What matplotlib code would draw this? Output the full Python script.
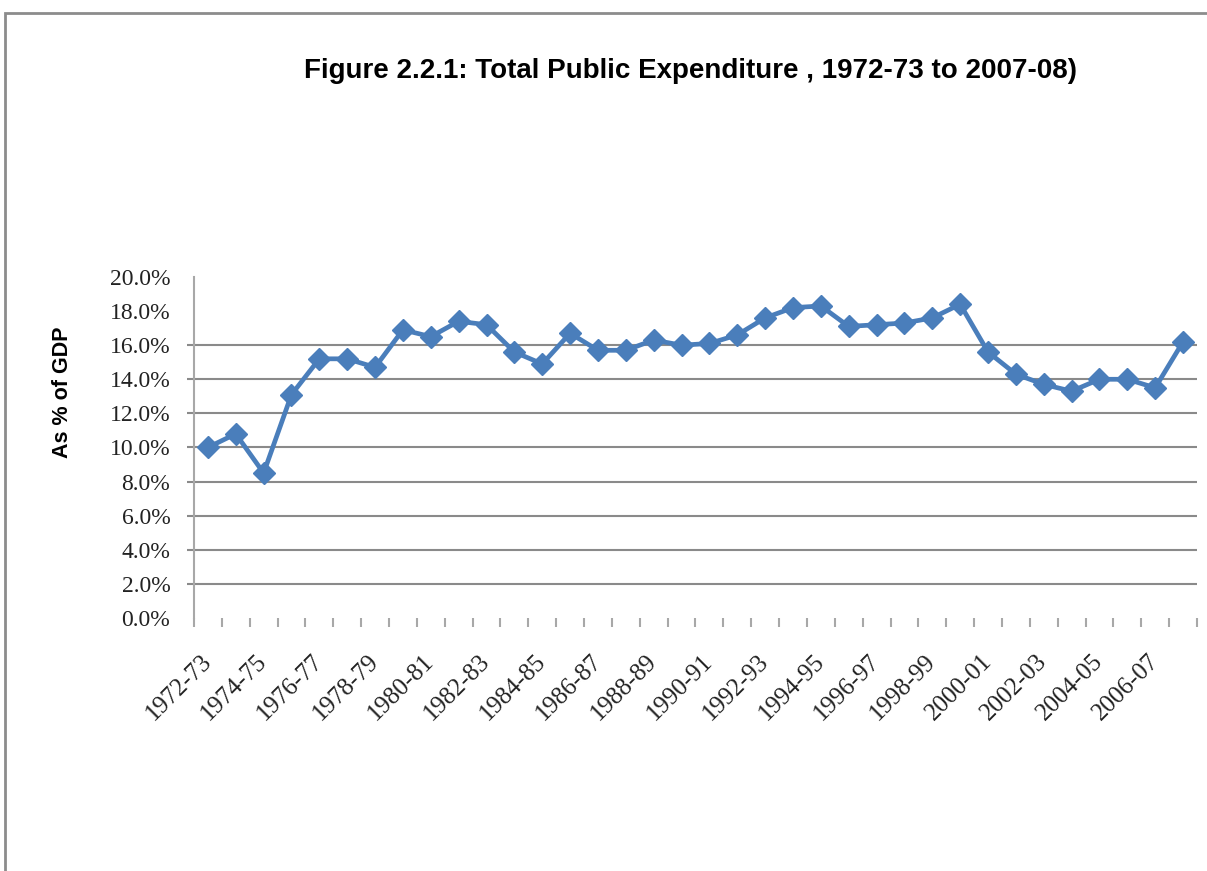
import matplotlib
matplotlib.use("Agg")
import matplotlib.pyplot as plt
from matplotlib.patches import Rectangle
from matplotlib.ticker import FuncFormatter, FixedLocator

# fiscal years 1972-73 .. 2007-08
years = [f"{y}-{str(y + 1)[-2:]}" for y in range(1972, 2008)]
share_gdp = [10.0, 10.8, 8.5, 13.1, 15.2, 15.2, 14.7, 16.9, 16.5, 17.4,
             17.2, 15.6, 14.9, 16.7, 15.7, 15.7, 16.3, 16.0, 16.1, 16.6,
             17.6, 18.2, 18.3, 17.1, 17.2, 17.3, 17.6, 18.4, 15.6, 14.3,
             13.7, 13.3, 14.0, 14.0, 13.5, 16.2]
y_ticks = [0, 2, 4, 6, 8, 10, 12, 14, 16, 18, 20]

fig = plt.figure(figsize=(12.07, 8.71), dpi=100)
ax = fig.add_axes([0.1607, 0.2905, 0.831, 0.3915])

# chart area border (runs off the right and bottom edges)
fig.patches.append(Rectangle((5 / 1207, -0.05), 1.2, 1 - 13 / 871 + 0.05,
                             transform=fig.transFigure, fill=False,
                             edgecolor="#8c8c8c", linewidth=2.0))

x = range(len(years))
ax.plot(x, share_gdp, color="#4A7EBB", linewidth=3.4, marker="D",
        markersize=11, markerfacecolor="#4A7EBB", markeredgecolor="#4A7EBB",
        zorder=3)

ax.set_xlim(-0.5, len(years) - 0.5)
ax.set_ylim(0, 20)
ax.yaxis.set_major_locator(FixedLocator(y_ticks))
ax.yaxis.set_major_formatter(FuncFormatter(lambda v, p: f"{v:.1f}%"))
ax.grid(axis="y", color="#8a8a8a", linewidth=1.5)
ax.set_axisbelow(True)
ax.tick_params(axis="y", length=5, color="#8a8a8a", width=1.5, pad=12)

# no grid line / tick mark at 0, 18 and 20
for val, tick in zip(y_ticks, ax.yaxis.get_major_ticks()):
    if val in (0, 18, 20):
        tick.gridline.set_visible(False)
        tick.tick1line.set_visible(False)

for lab in ax.get_yticklabels():
    lab.set_family("Liberation Serif")
    lab.set_fontsize(17)
    lab.set_color("#222222")

# labels on every other year, tick marks between categories
ax.set_xticks(list(x)[::2])
ax.set_xticklabels(years[::2], rotation=45, ha="right", va="center",
                   rotation_mode="anchor", family="Liberation Serif",
                   fontsize=18, color="#222222")
ax.xaxis.set_minor_locator(FixedLocator([i - 0.5 for i in range(len(years) + 1)]))
ax.tick_params(axis="x", which="major", length=0, pad=29)
ax.tick_params(axis="x", which="minor", length=6.5, color="#a8a8a8", width=1.5)

for side in ("top", "right", "bottom"):
    ax.spines[side].set_visible(False)
ax.spines["left"].set_color("#a8a8a8")
ax.spines["left"].set_linewidth(1.5)

fig.text(63 / 1207, 1 - 392 / 871, "As % of GDP", rotation=90,
         ha="center", va="center", family="Liberation Sans",
         fontweight="bold", fontsize=15.5)
fig.text(0.572, 0.918, "Figure 2.2.1: Total Public Expenditure , 1972-73 to 2007-08)",
         ha="center", va="center", family="Liberation Sans",
         fontweight="bold", fontsize=20)

fig.savefig("out.png", dpi=100, facecolor="white")
